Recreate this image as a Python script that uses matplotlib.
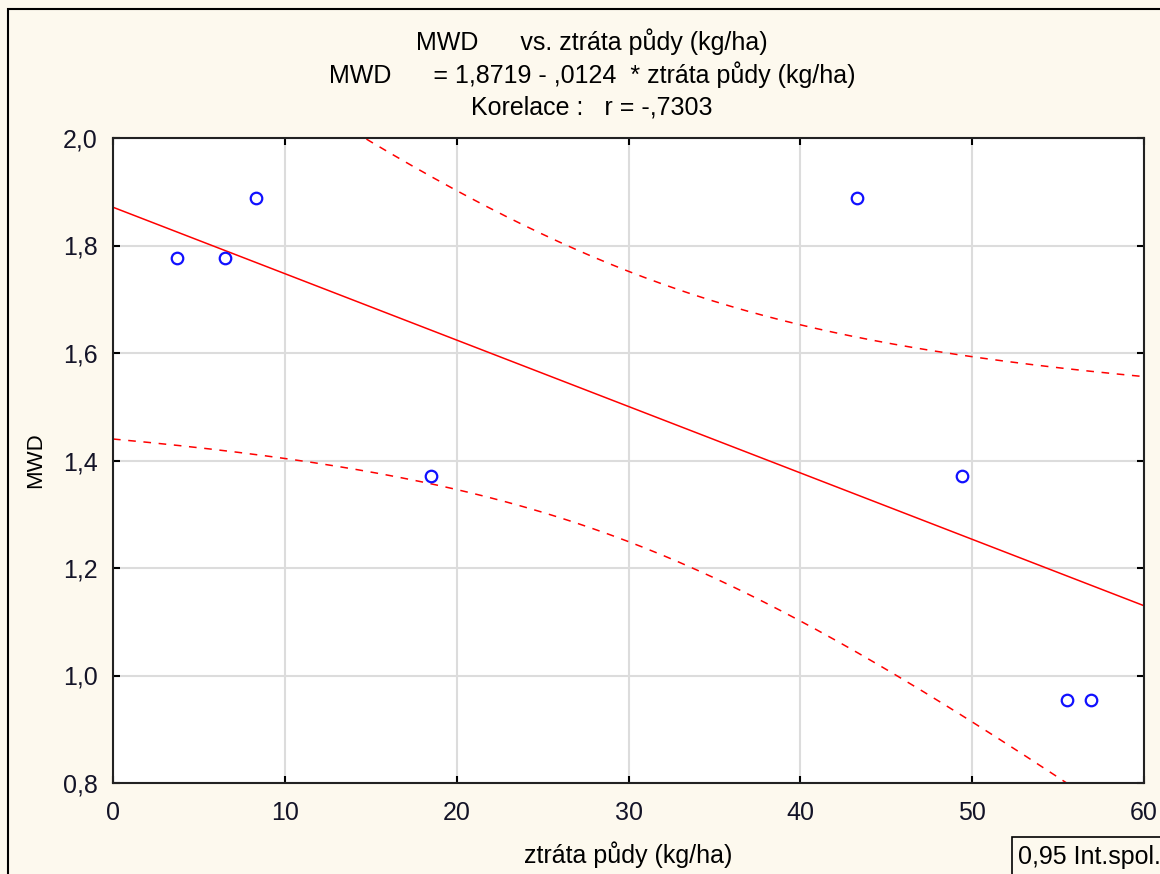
import matplotlib.pyplot as plt
from matplotlib.patches import Rectangle
from matplotlib.ticker import FuncFormatter
import numpy as np

plt.rcParams['font.family'] = ['Liberation Sans', 'DejaVu Sans']

# data
ztrata = [3.7, 6.5, 8.3, 18.5, 43.3, 49.4, 55.5, 56.9]
mwd = [1.776, 1.776, 1.888, 1.371, 1.888, 1.371, 0.954, 0.954]
xticks = [0, 10, 20, 30, 40, 50, 60]
yticks = [0.8, 1.0, 1.2, 1.4, 1.6, 1.8, 2.0]

x = np.array(ztrata)
y = np.array(mwd)
n = len(x)

# regression + 95% confidence band of the mean
b, a = np.polyfit(x, y, 1)
res = y - (a + b * x)
s = np.sqrt(np.sum(res ** 2) / (n - 2))
sxx = np.sum((x - x.mean()) ** 2)
t = 2.4469  # t(0.975, 6)
xs = np.linspace(0, 60, 300)
fit = a + b * xs
half = t * s * np.sqrt(1.0 / n + (xs - x.mean()) ** 2 / sxx)

bg = '#fdf9ee'
fig = plt.figure(figsize=(11.6, 8.74), dpi=100, facecolor=bg)
W, H = 1160, 874
ax = fig.add_axes([113 / W, 1 - 783 / H, (1144 - 113) / W, (783 - 138) / H])
ax.set_facecolor('white')

ax.plot(xs, fit, color='#ff0000', lw=1.1)
ax.plot(xs, fit + half, color='#ff0000', lw=1.1, dashes=(5, 5))
ax.plot(xs, fit - half, color='#ff0000', lw=1.1, dashes=(5, 5))
ax.plot(x, y, 'o', mfc='none', mec='#1010ff', mew=1.6, ms=8.3, zorder=5)

ax.set_xlim(0, 60)
ax.set_ylim(0.8, 2.0)
ax.set_xticks(xticks)
ax.set_yticks(yticks)
ax.xaxis.set_major_formatter(FuncFormatter(lambda v, p: f"{v:.0f}"))
ax.yaxis.set_major_formatter(FuncFormatter(lambda v, p: f"{v:.1f}".replace('.', ',')))
ax.tick_params(direction='in', length=5, width=1.5, labelsize=18, labelcolor='#141428',
               top=True, right=True, labeltop=False, labelright=False)
ax.tick_params(axis='x', pad=13)
ax.tick_params(axis='y', pad=11)
ax.grid(True, color='#dcdcdc', lw=1.5)
ax.set_axisbelow(True)
for sp in ax.spines.values():
    sp.set_linewidth(1.5)
    sp.set_color('#222222')

fig.text(628 / W, 1 - 855 / H, "ztráta půdy (kg/ha)", ha='center', va='center', fontsize=18)
fig.text(36 / W, 1 - 460 / H, "MWD", ha='center', va='center', rotation=90, fontsize=16)

fig.text(592 / W, 1 - 42 / H, "MWD      vs. ztráta půdy (kg/ha)", ha='center', va='center', fontsize=18)
fig.text(592 / W, 1 - 75 / H, "MWD      = 1,8719 - ,0124  * ztráta půdy (kg/ha)", ha='center', va='center', fontsize=18)
fig.text(592 / W, 1 - 108 / H, "Korelace :   r = -,7303", ha='center', va='center', fontsize=18)

# outer frame and legend box
fig.patches.append(Rectangle((8 / W, -0.1), 1.2, 1 - 9 / H + 0.1, transform=fig.transFigure,
                             fill=False, ec='black', lw=1.5))
fig.patches.append(Rectangle((1012 / W, -0.1), 0.2, (874 - 837) / H + 0.1, transform=fig.transFigure,
                             fill=False, ec='black', lw=1.2))
fig.text(1018 / W, 1 - 857 / H, "0,95 Int.spol.", ha='left', va='center', fontsize=18)

fig.savefig("out.png", dpi=100, facecolor=bg)
